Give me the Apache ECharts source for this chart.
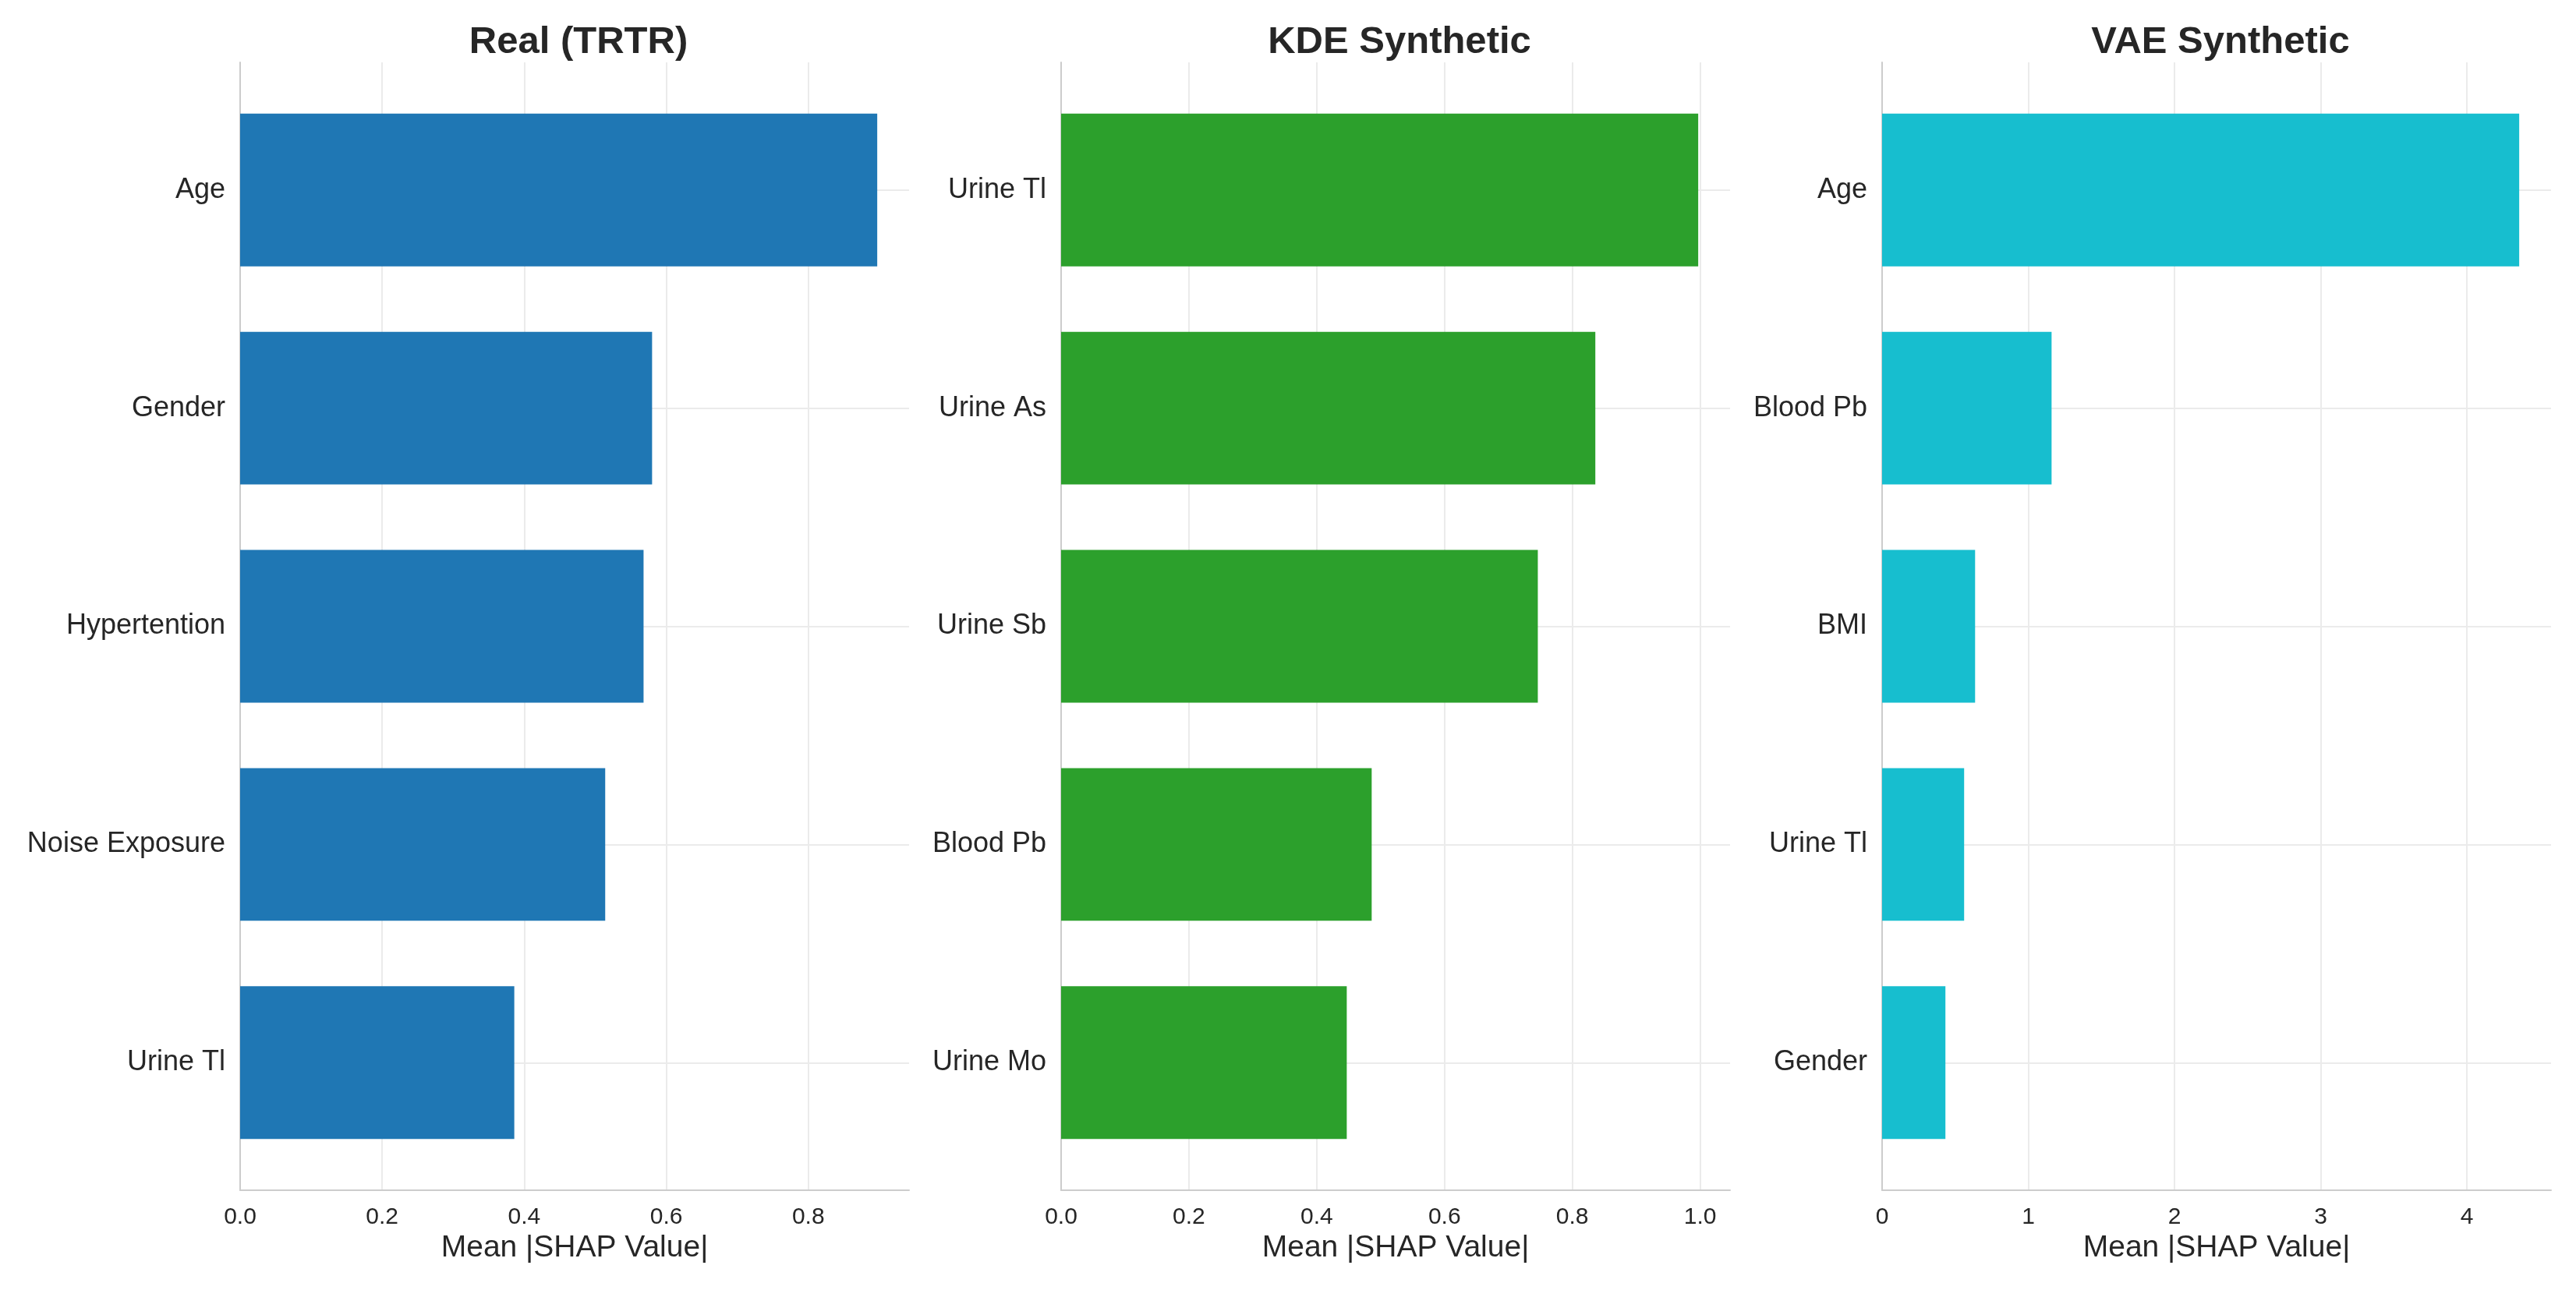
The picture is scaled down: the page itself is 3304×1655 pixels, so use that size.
<!DOCTYPE html>
<html>
<head>
<meta charset="utf-8">
<script src="https://cdn.jsdelivr.net/npm/echarts@6/dist/echarts.min.js"></script>
<style>
    html, body { margin: 0; padding: 0; background: #fff; }
    #main { width: 3304px; height: 1655px; }
</style>
</head>
<body>
<div id="main"></div>
<script>
    // data
    var panelTitles = ['Real (TRTR)', 'KDE Synthetic', 'VAE Synthetic'];
    var realNames = ['Age', 'Gender', 'Hypertention', 'Noise Exposure', 'Urine Tl'];
    var realValues = [0.897, 0.580, 0.568, 0.514, 0.386];
    var kdeNames = ['Urine Tl', 'Urine As', 'Urine Sb', 'Blood Pb', 'Urine Mo'];
    var kdeValues = [0.997, 0.836, 0.746, 0.486, 0.447];
    var vaeNames = ['Age', 'Blood Pb', 'BMI', 'Urine Tl', 'Gender'];
    var vaeValues = [4.357, 1.159, 0.636, 0.561, 0.433];
    var tickSteps = [0.2, 0.2, 1];
    var xName = 'Mean |SHAP Value|';

    var panelNames = [realNames, kdeNames, vaeNames];
    var panelValues = [realValues, kdeValues, vaeValues];
    var colors = ['#1f77b4', '#2ca02c', '#17becf'];

    var FONT = '"Liberation Sans", Arial, sans-serif';
    var TEXT = '#262626';
    var lefts = [308, 1361, 2414];
    var plotW = 858;
    var frameTop = 80, frameBottom = 1527;
    var band = (frameBottom - frameTop) / 5.17;
    var barTop = frameTop + band * 0.085;

    function tickFormatter(step) {
        return function (v) {
            return step < 1 ? v.toFixed(1) : String(Math.round(v));
        };
    }

    var grid = [], xAxis = [], yAxis = [], series = [], title = [];

    for (var i = 0; i < 3; i++) {
        var xmax = Math.max.apply(null, panelValues[i]) * 1.05;

        // frame grid: spines, x ticks, vertical grid lines
        grid.push({left: lefts[i], top: frameTop, width: plotW, height: frameBottom - frameTop});
        // bar grid: category bands
        grid.push({left: lefts[i], top: barTop, width: plotW, height: band * 5});

        xAxis.push({
            gridIndex: 2 * i, type: 'value', min: 0, max: xmax, interval: tickSteps[i],
            axisLine: {show: true, lineStyle: {color: '#cccccc', width: 2}},
            axisTick: {show: false},
            axisLabel: {
                fontSize: 30, color: TEXT, fontFamily: FONT, margin: 20, showMaxLabel: false,
                formatter: tickFormatter(tickSteps[i])
            },
            splitLine: {show: true, showMaxLine: false, lineStyle: {color: '#ebebeb', width: 2}},
            name: xName, nameLocation: 'middle', nameGap: 55,
            nameTextStyle: {fontSize: 39, color: TEXT, fontFamily: FONT}
        });
        yAxis.push({
            gridIndex: 2 * i, type: 'value', min: 0, max: 1,
            axisLine: {show: true, lineStyle: {color: '#cccccc', width: 2}},
            axisTick: {show: false}, axisLabel: {show: false}, splitLine: {show: false}
        });

        xAxis.push({gridIndex: 2 * i + 1, type: 'value', min: 0, max: xmax, show: false});
        yAxis.push({
            gridIndex: 2 * i + 1, type: 'category', data: panelNames[i], inverse: true,
            axisLine: {show: false}, axisTick: {show: false},
            axisLabel: {
                fontSize: 36, color: TEXT, fontFamily: FONT, margin: 19,
                backgroundColor: 'rgba(255,255,255,0)', padding: [9, 0, 0, 0]
            },
            splitLine: {show: true, alignWithLabel: true, lineStyle: {color: '#ebebeb', width: 2}}
        });

        series.push({
            type: 'bar', xAxisIndex: 2 * i + 1, yAxisIndex: 2 * i + 1,
            data: panelValues[i], barWidth: '70%',
            itemStyle: {color: colors[i]}, silent: true
        });

        title.push({
            text: panelTitles[i], left: lefts[i] + plotW / 2, top: 25, textAlign: 'center',
            textStyle: {fontSize: 49, fontWeight: 'bold', color: TEXT, fontFamily: FONT}
        });
    }

    var myChart = echarts.init(document.getElementById('main'));
    myChart.setOption({
        animation: false,
        backgroundColor: '#ffffff',
        title: title,
        grid: grid,
        xAxis: xAxis,
        yAxis: yAxis,
        series: series
    });
</script>
</body>
</html>
